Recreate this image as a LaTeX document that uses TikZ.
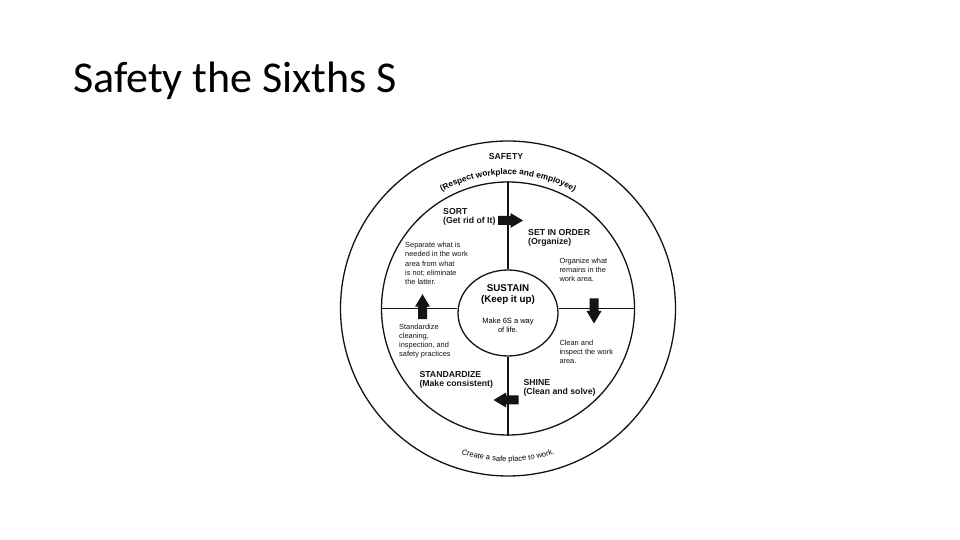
\documentclass[tikz,border=0pt]{standalone}
\usepackage{fontspec}
\setsansfont{Liberation Sans}
\newfontfamily\titlefont{Carlito}
\usetikzlibrary{shapes.geometric, decorations.text, calc}
\definecolor{ink}{RGB}{20,20,20}
\tikzset{
  ring/.style={draw=ink, line width=1.3pt, inner sep=0pt},
  divider/.style={draw=ink, line width=1.6pt},
  heading/.style={font=\sffamily\bfseries\fontsize{8.7}{9}\selectfont, align=left, anchor=base west, inner sep=0pt, text=ink},
  bodytext/.style={font=\sffamily\fontsize{7.4}{9.2}\selectfont, align=left, anchor=base west, inner sep=0pt, text=ink},
  blockarrow/.pic={\fill[ink] (-12.5pt,-4.5pt) -- (0pt,-4.5pt) -- (0pt,-7.5pt) -- (12.5pt,0pt) -- (0pt,7.5pt) -- (0pt,4.5pt) -- (-12.5pt,4.5pt) -- cycle;}
}

\begin{document}
\begin{tikzpicture}[x=1pt, y=1pt]
  \fill[white] (0,0) rectangle (960,540);
  \useasboundingbox (0,0) rectangle (960,540);
  \node[anchor=base west, inner sep=0pt, font=\titlefont\fontsize{44}{50}\selectfont] (title) at (73,447) {Safety the Sixths S};

  \coordinate (hub) at (508,231.5);
  \node[ring, circle, minimum size=335pt] (safetyRing) at (hub) {};
  \node[ring, circle, minimum size=253pt] (cycleRing) at (hub) {};
  \node[ring, ellipse, minimum width=100pt, minimum height=86pt] (sustainRing) at (508,227) {};

  \draw[divider] (cycleRing.north) -- (sustainRing.north);
  \draw[divider] (sustainRing.south) -- (cycleRing.south);
  \draw[divider] (cycleRing.west) -- (sustainRing.west |- cycleRing.west);
  \draw[divider] (sustainRing.east |- cycleRing.east) -- (cycleRing.east);

  \node[heading, anchor=base] (safety) at (506,380) {SAFETY};
  \path[decorate, decoration={text along path, text align=center,
    text={|\sffamily\bfseries\fontsize{8.3}{9}\selectfont|(Respect workplace and employee)}}]
    ($(hub)+(140:134pt)$) arc[start angle=140, end angle=40, radius=134pt];
  \path[decorate, decoration={text along path, text align=center,
    text={|\sffamily\fontsize{7.6}{9}\selectfont|Create a safe place to work.}}]
    ($(hub)+(230:153pt)$) arc[start angle=230, end angle=310, radius=153pt];

  \node[heading] (sort) at (443,316) {SORT\\(Get rid of It)};
  \node[heading] (setInOrder) at (528,295) {SET IN ORDER\\(Organize)};
  \node[heading] (standardize) at (419.3,153) {STANDARDIZE\\(Make consistent)};
  \node[heading] (shine) at (523.3,145.3) {SHINE\\(Clean and solve)};

  \node[bodytext] (sortText) at (405,255.5) {Separate what is\\needed in the work\\area from what\\is not; eliminate\\the latter.};
  \node[bodytext] (orderText) at (559.3,258.3) {Organize what\\remains in the\\work area.};
  \node[bodytext] (standardizeText) at (399,183.3) {Standardize\\cleaning,\\inspection, and\\safety practices};
  \node[bodytext] (shineText) at (559.3,176) {Clean and\\inspect the work\\area.};

  \node[font=\sffamily\bfseries\fontsize{9.8}{11.3}\selectfont, align=center, anchor=base, inner sep=0pt] (sustain) at (508,237) {SUSTAIN\\(Keep it up)};
  \node[font=\sffamily\fontsize{7.5}{9.4}\selectfont, align=center, anchor=base, inner sep=0pt] (sustainText) at (508,207.3) {Make 6S a way\\of life.};

  \pic (sortArrow) at (510.5,319.5) {blockarrow};
  \pic[rotate=-90] (orderArrow) at (594,229) {blockarrow};
  \pic[rotate=180] (shineArrow) at (506,140) {blockarrow};
  \pic[rotate=90] (standardizeArrow) at (422.5,233.3) {blockarrow};
\end{tikzpicture}
\end{document}
